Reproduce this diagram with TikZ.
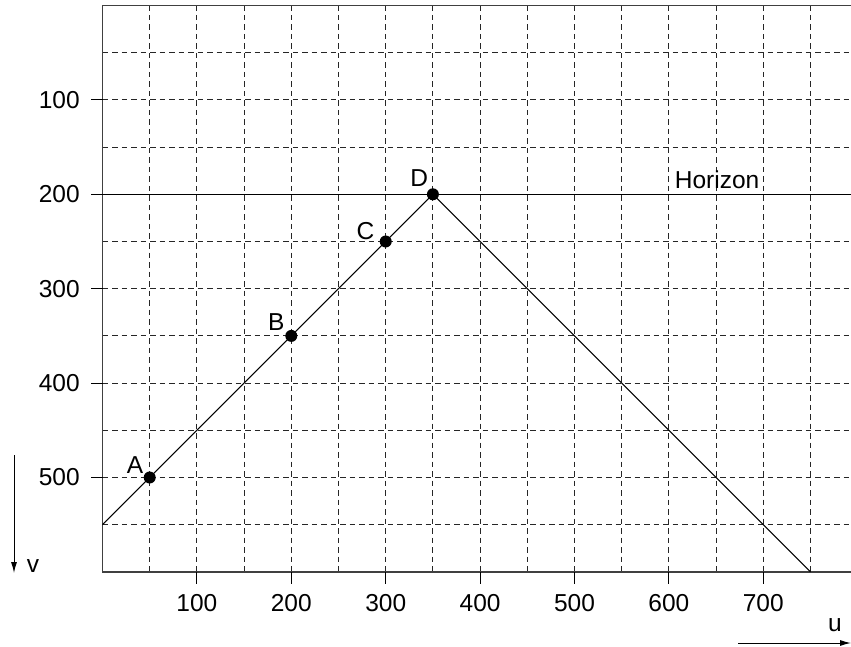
\documentclass[tikz,border=0pt]{standalone}
\usepackage{fontspec}
\setmainfont{Liberation Sans}
\usetikzlibrary{calc,arrows.meta}
\begin{document}
\begin{tikzpicture}[x=1pt,y=-1pt,
  frame/.style={draw=black!75,line width=1.4pt},
  gridline/.style={draw=black!85,line width=0.9pt,dash pattern=on 5.5pt off 4pt},
  curve/.style={draw=black,line width=1pt},
  dot/.style={circle,fill=black,minimum size=12pt,inner sep=0pt},
  lbl/.style={font=\fontsize{24.5}{28}\selectfont,inner sep=0pt},
  tick/.style={draw=black,line width=1pt},
  axarrow/.style={draw=black,line width=1pt,-{Latex[length=11pt,width=6pt]}}]
\useasboundingbox (0,0) rectangle (851,647);
\begin{scope}[shift={(102.5,5.5)},x=0.944pt,y=-0.944pt]
  % grid
  \foreach \u in {50,100,...,750} \draw[gridline] (\u,0) -- (\u,600);
  \foreach \v in {50,100,...,550} \draw[gridline] (0,\v) -- (793,\v);
  % frame
  \draw[frame] (793,0) -- (0,0) -- (0,600) -- (793,600);
  % horizon
  \draw[curve] (0,200) -- (793,200);
  % ticks and labels
  \foreach \v in {100,200,...,500} {
    \draw[tick] (-12,\v) -- (0,\v);
    \node[lbl,anchor=east] at (-24,\v) {\v};
  }
  \foreach \u in {100,200,...,700} {
    \draw[tick] (\u,600) -- (\u,613);
    \node[lbl] at (\u,633) {\u};
  }
  % points
  \coordinate (start) at (0,550);
  \coordinate (stop) at (750,600);
  \node[dot] (A) at (50,500) {};
  \node[dot] (B) at (200,350) {};
  \node[dot] (C) at (300,250) {};
  \node[dot] (D) at (350,200) {};
  \draw[curve] (start) -- (A.center) -- (B.center) -- (C.center) -- (D.center) -- (stop);
  \node[lbl] (lA) at ($(A)+(-15.5,-13.5)$) {A};
  \node[lbl] (lB) at ($(B)+(-16,-15)$) {B};
  \node[lbl] (lC) at ($(C)+(-21.5,-11.5)$) {C};
  \node[lbl] (lD) at ($(D)+(-14.5,-17)$) {D};
  \node[lbl] (hz) at (651,185) {Horizon};
\end{scope}
% axis arrows
\coordinate (vs) at (14,455);
\coordinate (ve) at (14,573);
\draw[axarrow] (vs) -- (ve);
\node[lbl] (vl) at (33,566) {v};
\coordinate (us) at (738,643);
\coordinate (ue) at (851,643);
\draw[axarrow] (us) -- (ue);
\node[lbl] (ul) at (835,625) {u};
\end{tikzpicture}
\end{document}
